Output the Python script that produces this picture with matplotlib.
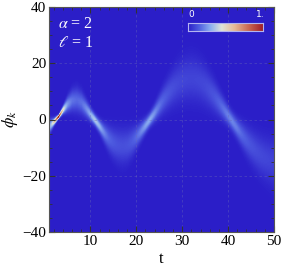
import matplotlib
matplotlib.use('Agg')
import matplotlib.pyplot as plt
from matplotlib.colors import LinearSegmentedColormap
from matplotlib.ticker import MultipleLocator
import numpy as np

plt.rcParams['mathtext.fontset'] = 'stix'

# ridge of the distribution: centre and width vs t
t_knots = np.arange(1, 51)
phi_centre = [-2.5, -0.8, 1.0, 3.5, 5.5, 6.8, 7.0, 6.0, 4.0, 1.8,
              -0.3, -2.5, -4.8, -6.8, -8.3, -9.2, -9.5, -9.2, -8.0, -6.3,
              -4.3, -2.2, 0.0, 2.3, 4.8, 7.2, 9.3, 11.2, 12.7, 13.8,
              14.4, 14.6, 14.3, 13.5, 12.2, 10.4, 8.4, 6.2, 3.9, 1.6,
              -0.7, -3.0, -5.2, -7.3, -9.2, -10.9, -12.4, -13.6, -14.5, -15.2]
phi_width = [1.6, 0.8, 0.42, 0.9, 1.8, 2.5, 2.8, 2.6, 2.0, 1.5,
             1.25, 1.5, 2.1, 2.9, 3.5, 3.9, 4.1, 3.9, 3.4, 2.7,
             2.1, 1.7, 1.55, 1.9, 2.5, 3.1, 3.7, 4.2, 4.7, 5.0,
             5.2, 5.3, 5.2, 5.0, 4.7, 4.2, 3.7, 3.1, 2.6, 2.2,
             2.1, 2.3, 2.8, 3.3, 3.8, 4.2, 4.6, 4.9, 5.2, 5.4]
norm = 0.47

alpha_label = r'$\alpha$ = 2'
ell_label = r'$\ell$ = 1'

cmap = LinearSegmentedColormap.from_list('temp', [
    (0.00, (43/255, 30/255, 200/255)),
    (0.15, (80/255, 95/255, 225/255)),
    (0.30, (140/255, 175/255, 240/255)),
    (0.45, (225/255, 228/255, 215/255)),
    (0.62, (230/255, 185/255, 150/255)),
    (0.82, (200/255, 100/255, 80/255)),
    (1.00, (160/255, 30/255, 40/255)),
])

# one sample per output pixel so the narrow part is not averaged away
tt = np.linspace(1, 50, 225)
pp = np.linspace(-40, 40, 225)
c = np.interp(tt, t_knots, phi_centre)
w = np.interp(tt, t_knots, phi_width)
T, P = np.meshgrid(tt, pp)
Z = norm / w * np.exp(-0.5 * ((P - c) / w) ** 2)
Z = np.clip(Z, 0, 1)

serif = 'Liberation Serif'
fig = plt.figure(figsize=(2.83, 2.73), dpi=100)
ax = fig.add_axes([49/283, 1 - 232/273, 225/283, 225/273])
ax.imshow(Z, extent=[1, 50, -40, 40], origin='lower', aspect='auto',
          cmap=cmap, vmin=0, vmax=1, interpolation='nearest')
ax.set_xlim(1, 50)
ax.set_ylim(-40, 40)
ax.xaxis.set_major_locator(MultipleLocator(10))
ax.xaxis.set_minor_locator(MultipleLocator(2))
ax.yaxis.set_major_locator(MultipleLocator(20))
ax.yaxis.set_minor_locator(MultipleLocator(5))
ax.tick_params(which='both', direction='in', top=True, right=True, color='#333333')
ax.tick_params(which='major', length=4, labelsize=11, pad=2)
ax.tick_params(which='minor', length=2)
for lab in ax.get_xticklabels() + ax.get_yticklabels():
    lab.set_family(serif)
ax.yaxis.set_major_formatter(plt.FuncFormatter(lambda v, p: f'{int(v)}'.replace('-', '\u2212')))
ax.grid(True, which='major', color='#6a6ab8', ls=(0, (3, 3)), lw=0.6, alpha=0.45)
for s in ax.spines.values():
    s.set_color('#555555')
    s.set_linewidth(0.8)

ax.set_xlabel('t', family=serif, fontsize=12, labelpad=2)
ax.set_ylabel(r'$\phi_k$', fontsize=12, labelpad=2)

ax.text(0.04, 0.925, alpha_label, transform=ax.transAxes, color='white',
        family=serif, fontsize=11.5, va='center')
ax.text(0.04, 0.84, ell_label, transform=ax.transAxes, color='white',
        family=serif, fontsize=11.5, va='center')

# colour bar drawn inside the plot
cax = ax.inset_axes([0.618, 0.893, 0.333, 0.036])
cax.imshow(np.linspace(0, 1, 256)[None, :], cmap=cmap, aspect='auto',
           extent=[0, 1, 0, 1])
cax.set_xticks([])
cax.set_yticks([])
for s in cax.spines.values():
    s.set_color('#b4b4f0')
    s.set_linewidth(0.8)
ax.text(0.618, 0.965, '0', transform=ax.transAxes, color='white',
        fontsize=6.5, ha='left', va='center')
ax.text(0.96, 0.965, '1.', transform=ax.transAxes, color='white',
        fontsize=6.5, ha='right', va='center')

fig.savefig('out.png', dpi=100)
